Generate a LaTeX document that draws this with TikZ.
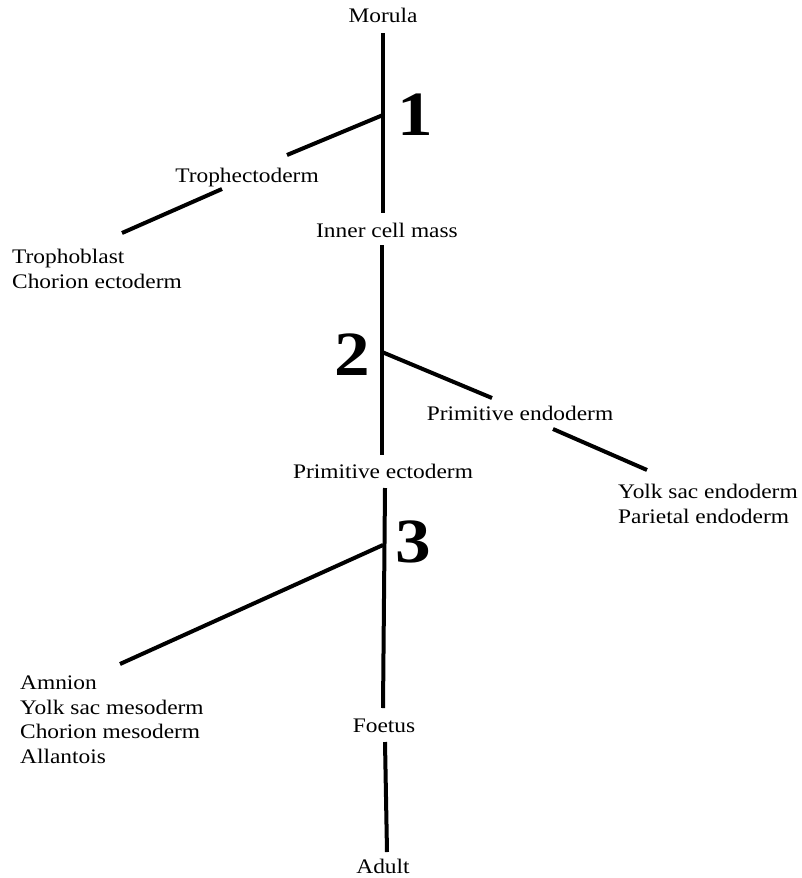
\documentclass[tikz,border=0pt]{standalone}
\usepackage{fontspec}
\setmainfont{Liberation Serif}[FakeStretch=1.13]
\begin{document}
\begin{tikzpicture}[x=1pt,y=-1pt,
  lbl/.style={font=\fontsize{20.7}{24.5}\selectfont, inner sep=0pt, anchor=base},
  lst/.style={font=\fontsize{20.7}{24.5}\selectfont, inner sep=0pt, anchor=base west, align=left},
  num/.style={font=\fontsize{63}{63}\selectfont\bfseries, inner sep=0pt, anchor=base},
  ln/.style={line width=4pt}]
\useasboundingbox (0,0) rectangle (802,878);
% text nodes
\node[lbl] (morula) at (383,23) {Morula};
\node[lbl] (troph) at (247,182) {Trophectoderm};
\node[lst] (trophlist) at (12,288) {Trophoblast\\Chorion ectoderm};
\node[lbl] (icm) at (387,237) {Inner cell mass};
\node[lbl] (pendo) at (520,420) {Primitive endoderm};
\node[lst] (endolist) at (618,523) {Yolk sac endoderm\\Parietal endoderm};
\node[lbl] (pecto) at (383,478) {Primitive ectoderm};
\node[lst] (mesolist) at (20,763) {Amnion\\Yolk sac mesoderm\\Chorion mesoderm\\Allantois};
\node[lbl] (foetus) at (384,732) {Foetus};
\node[lbl] (adult) at (383,873) {Adult};
\node[num] (n1) at (415,135) {1};
\node[num] (n2) at (352,375) {2};
\node[num] (n3) at (413,562) {3};
% line end points
\coordinate (m1) at (383,33);
\coordinate (m2) at (383,213);
\coordinate (j1) at (383,115);
\coordinate (t1) at (287,155);
\coordinate (t2) at (222,189);
\coordinate (t3) at (122,233);
\coordinate (i1) at (382,245);
\coordinate (i2) at (382,455);
\coordinate (j2) at (382,352);
\coordinate (e1) at (492,398);
\coordinate (e2) at (553,429);
\coordinate (e3) at (647,470);
\coordinate (p1) at (385,488);
\coordinate (p2) at (383,708);
\coordinate (j3) at (383,545);
\coordinate (a1) at (120,664);
\coordinate (f1) at (385,742);
\coordinate (f2) at (387,852);
% connectors
\draw[ln] (m1) -- (m2);
\draw[ln] (j1) -- (t1);
\draw[ln] (t2) -- (t3);
\draw[ln] (i1) -- (i2);
\draw[ln] (j2) -- (e1);
\draw[ln] (e2) -- (e3);
\draw[ln] (p1) -- (p2);
\draw[ln] (j3) -- (a1);
\draw[ln] (f1) -- (f2);
\end{tikzpicture}
\end{document}
